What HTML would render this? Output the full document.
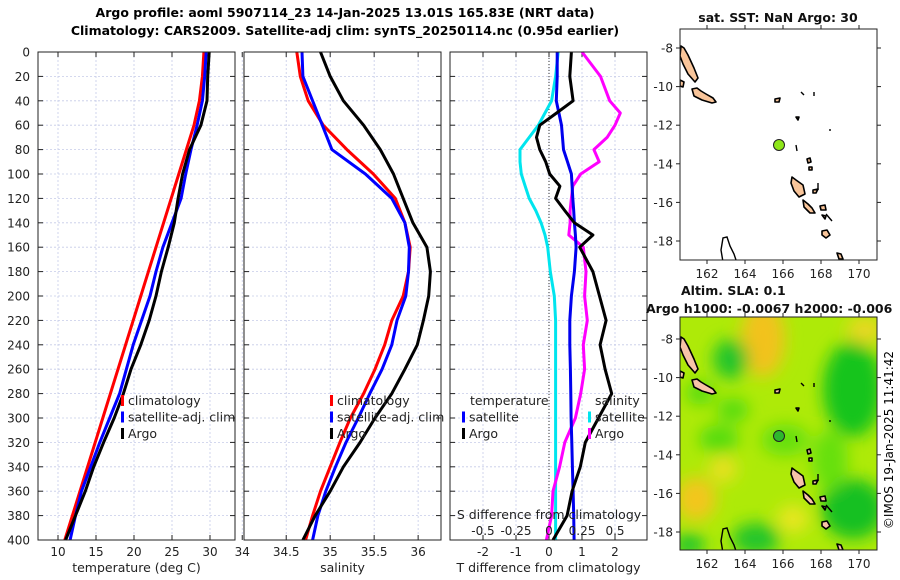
<!DOCTYPE html>
<html><head><meta charset="utf-8"><style>
html,body{margin:0;padding:0;background:#fff;}
svg{display:block;font-family:"DejaVu Sans","Liberation Sans",sans-serif;}
</style></head><body>
<svg id="fig" width="900" height="580" viewBox="0 0 900 580">
<defs>
<filter id="blur" x="-50%" y="-50%" width="200%" height="200%"><feGaussianBlur stdDeviation="8"/></filter>
<clipPath id="clipM2"><rect x="680" y="317" width="197" height="233"/></clipPath>
<clipPath id="clipM1"><rect x="680" y="29" width="197" height="231"/></clipPath>
</defs>
<text x="345" y="17" text-anchor="middle" font-size="12.5" font-weight="bold">Argo profile: aoml 5907114_23 14-Jan-2025 13.01S 165.83E (NRT data)</text>
<text x="345" y="35" text-anchor="middle" font-size="12.5" font-weight="bold">Climatology: CARS2009. Satellite-adj clim: synTS_20250114.nc (0.95d earlier)</text>
<g id="panels"></g>
<g id="maps"></g>
<text transform="translate(893,440) rotate(-90)" text-anchor="middle" font-size="12">©IMOS 19-Jan-2025 11:41:42</text>
</svg>
<script>
const NS="http://www.w3.org/2000/svg";
const svg=document.getElementById('fig');
const panelsG=document.getElementById('panels');
function el(tag,attrs,parent){const e=document.createElementNS(NS,tag);for(const k in attrs)e.setAttribute(k,attrs[k]);(parent||svg).appendChild(e);return e;}

// ---- data ----
const depths=[0,20,40,60,80,100,120,140,160,180,200,220,240,260,280,300,320,340,360,380,400];
const tempClim=[29.2,29.0,28.6,27.9,26.9,25.9,24.9,23.9,22.9,21.9,20.9,19.9,18.9,17.9,16.9,15.9,14.9,13.9,12.9,11.9,10.9];
const tempSat=[29.5,29.3,29.0,28.3,27.5,26.8,26.2,25.0,23.8,22.9,22.1,21.0,19.9,19.0,18.1,16.8,15.5,14.3,13.1,12.3,11.6];
const tempArgo=[29.9,29.7,29.6,28.8,27.3,26.4,25.8,25.3,24.5,23.6,22.9,22.0,20.9,19.6,18.6,17.4,16.0,14.7,13.6,12.3,11.0];
const salClim=[34.62,34.66,34.75,34.92,35.19,35.49,35.74,35.85,35.91,35.89,35.83,35.70,35.62,35.51,35.38,35.23,35.11,35.00,34.89,34.80,34.72];
const salSat=[34.68,34.69,34.80,34.91,35.02,35.40,35.70,35.85,35.90,35.89,35.86,35.76,35.70,35.59,35.45,35.32,35.18,35.06,34.95,34.86,34.80];
const salArgo=[34.89,35.00,35.15,35.38,35.57,35.72,35.83,35.94,36.10,36.14,36.12,36.06,35.99,35.85,35.70,35.51,35.34,35.15,35.00,34.83,34.69];
const diffDepths=[0,20,40,50,60,70,80,90,100,110,120,130,140,150,160,180,200,220,240,260,280,300,320,340,360,380,400];
const tDiffSat=[0.25,0.25,0.22,0.30,0.38,0.41,0.44,0.56,0.68,0.70,0.72,0.75,0.77,0.80,0.82,0.77,0.68,0.63,0.63,0.65,0.66,0.67,0.69,0.71,0.73,0.75,0.76];
const tDiffArgo=[0.68,0.63,0.73,0.23,-0.28,-0.38,-0.28,-0.10,0.02,0.33,0.20,0.48,0.77,1.33,0.93,1.33,1.53,1.73,1.55,1.70,1.90,1.50,1.10,0.95,0.70,0.55,0.12];
const sDiffSat=[0.07,0.05,0.02,-0.03,-0.08,-0.15,-0.22,-0.22,-0.21,-0.18,-0.15,-0.10,-0.06,-0.03,-0.01,0.01,0.04,0.05,0.05,0.05,0.05,0.05,0.05,0.05,0.05,0.05,0.05];
const sDiffArgo=[0.25,0.39,0.46,0.54,0.50,0.44,0.34,0.38,0.24,0.18,0.17,0.16,0.16,0.15,0.26,0.28,0.27,0.29,0.26,0.27,0.24,0.20,0.12,0.08,0.03,0.02,-0.02];
const depthTicks=[0,20,40,60,80,100,120,140,160,180,200,220,240,260,280,300,320,340,360,380,400];
const tempTicks=[10,15,20,25,30];
const salTicks=[34,34.5,35,35.5,36];
const tdTicks=[-2,-1,0,1,2];
const sdTicks=[-0.5,-0.25,0,0.25,0.5];
const sdTickLabels=['-0.5','-0.25','0','0.25','0.5'];

const Y0=52,Y1=540;
const yScale=d=>Y0+(d/400)*(Y1-Y0);
function mkX(x0,w,vmin,vmax){return v=>x0+(v-vmin)/(vmax-vmin)*w;}

function panel(name,x0,w,xs,ticks,labels,xlabel){
  const g=el('g',{},panelsG);
  
  ticks.forEach(t=>{const l=el('line',{x1:xs(t),x2:xs(t),y1:Y0,y2:Y1,stroke:'#c5cbe8','stroke-width':0.8,'stroke-dasharray':'2,2'},g);
    });
  depthTicks.forEach(d=>{const l=el('line',{x1:x0,x2:x0+w,y1:yScale(d),y2:yScale(d),stroke:'#c5cbe8','stroke-width':0.8,'stroke-dasharray':'2,2'},g);
    
    el('line',{x1:x0,x2:x0+5,y1:yScale(d),y2:yScale(d),stroke:'#222'},g);
    el('line',{x1:x0+w-5,x2:x0+w,y1:yScale(d),y2:yScale(d),stroke:'#222'},g);});
  ticks.forEach((t,i)=>{el('line',{x1:xs(t),x2:xs(t),y1:Y1,y2:Y1-5,stroke:'#222'},g);el('line',{x1:xs(t),x2:xs(t),y1:Y0,y2:Y0+5,stroke:'#222'},g);
    const tx=el('text',{x:xs(t),y:Y1+16,'text-anchor':'middle','font-size':12,fill:'#222'},g);tx.textContent=labels[i];
    });
  const xl=el('text',{x:x0+w/2,y:572,'text-anchor':'middle','font-size':12.5,fill:'#222'},g);xl.textContent=xlabel;
  
  return g;
}
function frame(g,x0,w){const r=el('rect',{x:x0,y:Y0,width:w,height:Y1-Y0,fill:'none',stroke:'#222','stroke-width':1},g);
  }
function line(g,xs,vals,ds,color,name,sw){
  const p=el('polyline',{points:vals.map((v,i)=>xs(v).toFixed(1)+','+yScale(ds[i]).toFixed(1)).join(' '),fill:'none',stroke:color,'stroke-width':sw||3,'stroke-linejoin':'round'},g);
  }
function legend(g,x,y,items){items.forEach((it,i)=>{
  el('rect',{x:x,y:y+i*16.5-10,width:3,height:11,fill:it[0]},g);
  const t=el('text',{x:x+7,y:y+i*16.5,'font-size':12.5,fill:'#222'},g);t.textContent=it[1];
  });}

depthTicks.forEach(d=>{const t=el('text',{x:30,y:yScale(d)+4.5,'text-anchor':'end','font-size':12,fill:'#222'},panelsG);t.textContent=d;
  });

const xT=mkX(38,197,7.37,33.29);
const g1=panel('temperature',38,197,xT,tempTicks,tempTicks.map(String),'temperature (deg C)');
line(g1,xT,tempClim,depths,'#ff0000','temp-climatology-line');
line(g1,xT,tempSat,depths,'#0000ff','temp-satellite-line');
line(g1,xT,tempArgo,depths,'#000000','temp-argo-line');
legend(g1,121,405,[['#ff0000','climatology'],['#0000ff','satellite-adj. clim'],['#000','Argo']]);
frame(g1,38,197);

const xS=mkX(244,197,34.02,36.26);
const g2=panel('salinity',244,197,xS,salTicks,salTicks.map(String),'salinity');
line(g2,xS,salClim,depths,'#ff0000','sal-climatology-line');
line(g2,xS,salSat,depths,'#0000ff','sal-satellite-line');
line(g2,xS,salArgo,depths,'#000000','sal-argo-line');
legend(g2,330,405,[['#ff0000','climatology'],['#0000ff','satellite-adj. clim'],['#000','Argo']]);
frame(g2,244,197);

const xTD=mkX(450,197,-3,2.97);
const xSD=v=>549+v*132;
const g3=panel('difference',450,197,xTD,tdTicks,tdTicks.map(String),'T difference from climatology');
el('line',{x1:xTD(0),x2:xTD(0),y1:Y0,y2:Y1,stroke:'#333','stroke-width':1,'stroke-dasharray':'1,2'},g3);
line(g3,xSD,sDiffSat,diffDepths,'#00e5ee','s-diff-satellite-line');
line(g3,xSD,sDiffArgo,diffDepths,'#ff00ff','s-diff-argo-line');
line(g3,xTD,tDiffSat,diffDepths,'#0000ee','t-diff-satellite-line');
line(g3,xTD,tDiffArgo,diffDepths,'#000000','t-diff-argo-line');
let t=el('text',{x:470,y:405,'font-size':12.5,fill:'#222'},g3);t.textContent='temperature';

t=el('text',{x:595,y:405,'font-size':12.5,fill:'#222'},g3);t.textContent='salinity';

legend(g3,462,421.5,[['#0000ff','satellite'],['#000','Argo']]);
legend(g3,588,421.5,[['#00e5ee','satellite'],['#ff00ff','Argo']]);
t=el('text',{x:549,y:519,'text-anchor':'middle','font-size':12.5,fill:'#222'},g3);t.textContent='S difference from climatology';

sdTicks.forEach((v,i)=>{const s=el('text',{x:xSD(v),y:535,'text-anchor':'middle','font-size':12,fill:'#222'},g3);s.textContent=sdTickLabels[i];
  });
frame(g3,450,197);

// ---- maps ----
const mapsG=document.getElementById('maps');
const lonTicks=[162,164,166,168,170];
const latTicks=[-8,-10,-12,-14,-16,-18];
const islands=[
 [[681,46],[684,48],[688,55],[694,68],[698,78],[695,82],[688,74],[683,64],[680,56]],
 [[680,80],[684,82],[683,87],[680,86]],
 [[692,89],[697,88],[701,91],[706,94],[713,98],[716,102],[712,103],[702,100],[694,96]],
 [[775,99],[780,98],[779,102],[775,102]],
 [[796,117],[799,117],[798,120]],
 [[807,159],[810,158],[811,162],[808,163]],
 [[809,167],[812,167],[812,170],[809,170]],
 [[792,177],[796,180],[803,185],[805,194],[799,197],[794,191],[791,183]],
 [[803,200],[808,204],[812,208],[815,213],[810,213],[804,207]],
 [[813,190],[818,189],[816,193],[813,193]],
 [[820,206],[825,205],[826,210],[821,210]],
 [[822,215],[826,216],[825,219]],
 [[822,231],[827,230],[830,235],[826,238],[822,235]],
 [[837,253],[841,254],[843,259],[839,259]]
];
const lines=[[[723,262],[721,250],[723,238],[727,237],[730,246],[734,254],[736,260]],
 [[796,145],[797,151]],[[801,92],[804,95]],[[814,92],[814,96]],[[829,130],[831,130]],[[818,183],[818,190]],[[826,214],[832,221]]];
function drawMap(name,top,h,dy,bgFn,fill,dotFill,clip){
  const g=el('g',{},mapsG);
  const inner=el('g',{'clip-path':'url(#'+clip+')'},g);
  bgFn(inner);
  const ig=el('g',{transform:'translate(0,'+dy+')'},inner);
  islands.forEach(p=>{const q=el('polygon',{points:p.map(a=>a.join(',')).join(' '),fill:fill,stroke:'#000','stroke-width':1.6,'stroke-linejoin':'round'},ig);
    });
  lines.forEach(p=>el('polyline',{points:p.map(a=>a.join(',')).join(' '),fill:'none',stroke:'#000','stroke-width':1.4},ig));
  const c=el('circle',{cx:779,cy:145+dy,r:5.5,fill:dotFill,stroke:'#222','stroke-width':1},inner);
  
  const fr=el('rect',{x:680,y:top,width:197,height:h,fill:'none',stroke:'#222','stroke-width':1},g);
  
  const lonX=v=>707+(v-162)*19;
  lonTicks.forEach(v=>{el('line',{x1:lonX(v),x2:lonX(v),y1:top+h,y2:top+h+4,stroke:'#222'},g);el('line',{x1:lonX(v),x2:lonX(v),y1:top,y2:top-4,stroke:'#222'},g);
    const tx=el('text',{x:lonX(v),y:top+h+18,'text-anchor':'middle','font-size':12,fill:'#222'},g);tx.textContent=v;
    });
  latTicks.forEach(v=>{const y=48+dy+(-8-v)*19.3;
    el('line',{x1:680,x2:676,y1:y,y2:y,stroke:'#222'},g);el('line',{x1:877,x2:881,y1:y,y2:y,stroke:'#222'},g);
    const tx=el('text',{x:673,y:y+4.5,'text-anchor':'end','font-size':12,fill:'#222'},g);tx.textContent=v;
    });
}
drawMap('sst-map',29,231,0,g=>el('rect',{x:680,y:29,width:197,height:231,fill:'#fff'},g),'#f9c59a','#8ee619','clipM1');
const blobs=[[763,339,22,38,'#f2c21e'],[731,359,18,20,'#22c52a'],[853,389,30,48,'#14c41e'],[853,509,32,30,'#12c020'],[696,499,20,22,'#f3c61e'],
 [723,469,14,14,'#e8e020'],[756,539,24,16,'#22c52a'],[689,545,16,12,'#22c52a'],[719,439,20,14,'#55dc10'],[865,330,18,14,'#e8d820'],
 [793,519,16,14,'#e8e620'],[733,410,16,12,'#55dc10'],[700,393,14,12,'#55dc10'],[785,440,24,16,'#66e010'],[830,460,18,30,'#66e010']];
drawMap('sla-map',317,233,291,g=>{el('rect',{x:680,y:317,width:197,height:233,fill:'#aeea08'},g);
  const bg=el('g',{filter:'url(#blur)'},g);
  blobs.forEach(b=>el('ellipse',{cx:b[0],cy:b[1],rx:b[2],ry:b[3],fill:b[4]},bg));},'#f7c3a8','#2db82d','clipM2');
t=el('text',{x:778,y:22,'text-anchor':'middle','font-size':12.5,'font-weight':'bold',fill:'#111'});t.textContent='sat. SST: NaN Argo: 30';

t=el('text',{x:681,y:295,'font-size':12.5,'font-weight':'bold',fill:'#111'});t.textContent='Altim. SLA: 0.1';

t=el('text',{x:646,y:313,'font-size':12.5,'font-weight':'bold',fill:'#111'});t.textContent='Argo h1000: -0.0067 h2000: -0.006';

</script>
</body></html>
